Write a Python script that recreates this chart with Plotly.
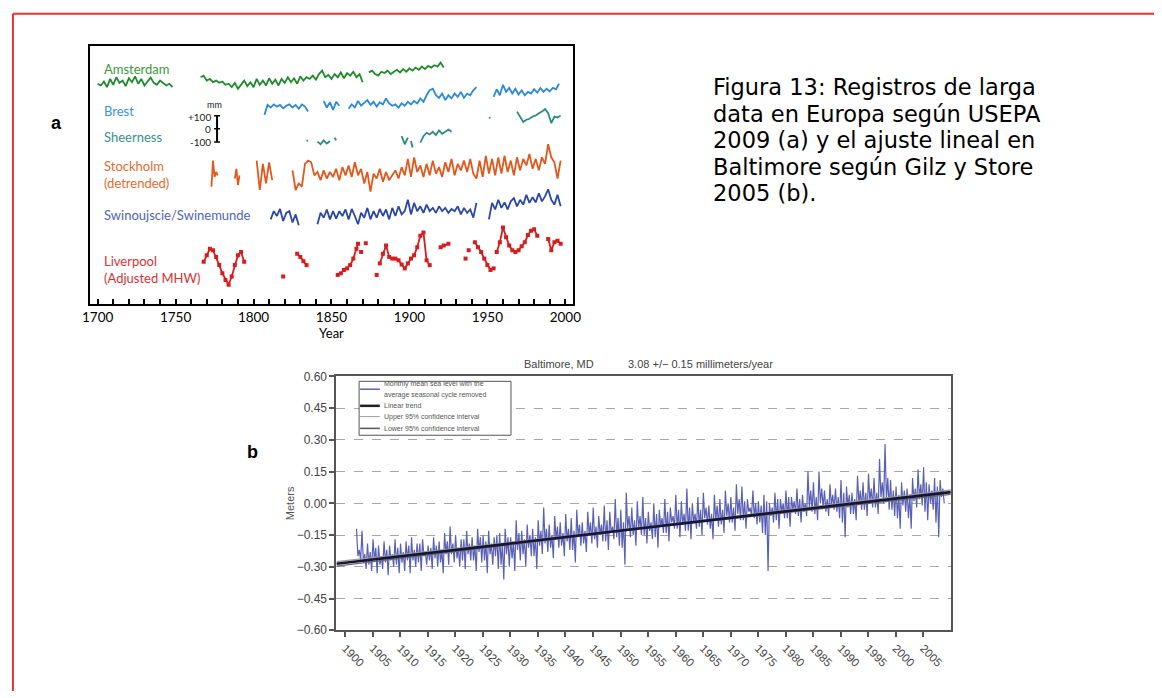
import plotly.graph_objects as go

W, H = 1162, 698


def px(x):
    return x / W


def py(y):
    return 1 - y / H


# ---------------- Panel a: long European records (mm anomalies) ----------------
ams_years = [*range(1700, 1749, 2), None, *range(1766, 1871, 2), None, *range(1874, 1923, 2)]
ams_mm = [-12, -25, 5, -38, 25, -20, 38, -5, 12, -30, 30, 0, 45, -12, 25, -25, 5, 35, -5, -20, 12, -5, -25, -12, -38,
          None,
          38, 50, 12, 25, 0, 12, -5, 5, -20, -12, -38, -5, -50, -20, 12, -30, 0, -38, 25, -20, 12, -25, 30, -12,
          20, -25, 25, -5, 38, 0, 30, -12, 45, 12, 38, 25, 50, 20, 62, 88, 38, 55, 25, 62, 38, 75, 30, 70, 50, 80,
          38, 62, 0,
          None,
          75, 88, 62, 50, 80, 70, 88, 62, 80, 95, 75, 100, 80, 105, 88, 112, 95, 120, 100, 125, 112, 130, 120, 150, 112]

brest_years = [*range(1807, 1836, 2), None, *range(1845, 1856, 2), None, *range(1861, 1944, 2), None,
               *range(1954, 1997, 2)]
brest_mm = [-38, 38, 18, 42, 25, 38, 12, 32, 42, 18, 38, 8, 42, 25, -12,
            None,
            68, 18, 58, 0, 62, 32,
            None,
            8, 42, 18, 68, 32, 50, 75, 38, 62, 25, 58, 42, 88, 50, 32, 42, 18, 50, 32, 62, 42, 68, 50, 88, 62, 112,
            150, 162, 112, 92, 125, 75, 112, 88, 125, 100, 138, 92, 125, 112, 150, 175,
            None,
            100, 158, 112, 192, 138, 168, 125, 162, 118, 150, 112, 138, 125, 158, 132, 168, 138, 162, 142, 168, 158, 200]

sheer_years = [1834, 1835, None, 1841, 1843, 1845, 1847, 1849, None, 1852, 1853, None, 1895, 1897, 1899, None,
               1901, 1902, None, *range(1907, 1928, 2), None, 1951, 1952, None, *range(1969, 1998, 2)]
sheer_mm = [-25, -20, None, -30, -50, -20, -45, -25, None, 0, -20, None, 12, -50, 0, None, -25, -75, None,
            -38, 12, 38, 25, 45, 20, 55, 30, 45, 62, 45, None, 155, 150, None,
            200, 162, 120, 138, 145, 162, 170, 188, 200, 220, 188, 112, 162, 155, 170]

stock_years = [*range(1773, 1778), None, *range(1788, 1792), None, *range(1802, 1813, 2), None,
               *range(1825, 1998, 2)]
stock_mm = [-75, 125, 0, 38, 12, None, -12, 62, -62, 12, None, 125, -100, 100, -50, 112, -25, None,
            50, -100, -50, -75, 100, 125, 112, 12, 38, -25,
            50, -12, 38, 0, 62, -25, 75, 12, 88, 0,
            112, 12, 62, -50, 38, -112, 25, -12, 62, -38,
            38, -25, 12, 50, -12, 75, 12, 138, 0, 150,
            38, 88, 0, 100, 12, 125, 25, 75, 0, 112,
            38, 138, 12, 100, 50, 125, 38, 138, 25, -12,
            125, 0, 162, 25, 138, 12, 150, 25, 162, 38,
            125, 12, 150, 50, 138, 88, 175, 62, 138, 50,
            150, 100, 250, 150, 112, -12, 125]

swin_years = [*range(1811, 1830, 2), None, *range(1841, 1944, 2), None, *range(1951, 1998, 2)]
swin_mm = [-38, 25, -12, 42, -50, 12, 25, -62, 0, -82,
           None,
           -75, 12, -25, 38, -38, 25, -32, 25, -12, 38,
           -38, 42, -12, -75, 12, -25, 50, -38, 25, -25,
           42, -12, 38, -38, 50, -12, 62, 0, 25, 112,
           0, 88, 25, 62, 12, 75, 25, 50, 12, 62,
           25, 50, 12, 42, 25, 62, 0, 50, 12, 38, -25, 88,
           None,
           -38, 88, 38, 112, 50, 92, 38, 100, 125, 62, 112, 75, 150, 88, 132, 92, 162, 100, 138, 192, 112, 75, 150, 62]

liv_years = [*range(1768, 1795, 2), None, 1819, None, *range(1828, 1835, 2), None, *range(1854, 1867, 2), 1867,
             None, 1869, None, 1872, None, 1879, None, *range(1881, 1914, 2), None, 1920, 1922, 1925, None,
             1936, None, 1938, None, *range(1942, 1956, 2), None, *range(1956, 1983, 2), None,
             *range(1989, 1998, 2)]
liv_mm = [0, 50, 100, 88, 38, -25, -88, -138, -175, -112, -25, 50, 75, 0, None, -112, None, 62, 38, 5, -25, None,
          -100, -88, -62, -50, -25, 25, 100, 138, None, 75, None, 142, None, -100, None,
          -12, 62, 125, 38, 25, 25, 12, -20, -50, -12, 25, 50, 112, 200, 225, 12, -25, None,
          112, 125, 138, None, 25, None, 88, None,
          150, 112, 75, 25, -25, -62, -50, None,
          75, 150, 262, 188, 125, 88, 75, 88, 120, 150, 205, 238, 250, 200, None,
          175, 88, 150, 162, 138]

station_names = ["Amsterdam", "Brest", "Sheerness", "Stockholm", "Swinoujscie/Swinemunde", "Liverpool"]
station_years = [ams_years, brest_years, sheer_years, stock_years, swin_years, liv_years]
station_mm = [ams_mm, brest_mm, sheer_mm, stock_mm, swin_mm, liv_mm]
station_offsets = [1697, 1485, 1272, 972, 685, 322]
station_colors = ["#1f8a2c", "#2b8ad6", "#2a8a84", "#e2571c", "#2a47a6", "#d61c1c"]
label_colors = ["#3a9a3a", "#3c92dc", "#3a908a", "#e36a2c", "#5064b4", "#d83232"]
station_labels = ["Amsterdam", "Brest", "Sheerness", "Stockholm<br>(detrended)", "Swinoujscie/Swinemunde",
                  "Liverpool<br>(Adjusted MHW)"]

axis_a_ticks = list(range(1700, 2001, 10))
axis_a_labels = [str(t) if t % 50 == 0 else "" for t in axis_a_ticks]

# ---------------- Panel b: Baltimore monthly sea level (read per year) ----------------
bal_years = list(range(1902, 2009))
bal_hi = [-0.12, -0.13, -0.19, -0.17, -0.20, -0.18, -0.20, -0.17, -0.19, -0.18,
          -0.16, -0.19, -0.17, -0.20, -0.16, -0.18, -0.14, -0.11, -0.15, -0.17,
          -0.13, -0.16, -0.12, -0.15, -0.13, -0.16, -0.14, -0.12, -0.16, -0.08,
          -0.13, -0.10, -0.12, -0.08, -0.02, -0.10, -0.06, -0.09, -0.05, -0.07,
          -0.03, -0.09, -0.04, -0.02, -0.06, -0.01, -0.04, 0.02, -0.03, 0.05,
          -0.02, 0.01, 0.03, -0.04, 0.00, -0.03, 0.02, -0.02, 0.04, 0.01,
          0.07, 0.00, 0.03, 0.05, -0.01, 0.04, 0.02, 0.06, 0.03, 0.09,
          0.08, 0.02, 0.06, 0.01, 0.04, 0.00, 0.05, 0.02, 0.06, 0.03,
          0.07, 0.04, 0.15, 0.10, 0.15, 0.06, 0.09, 0.07, 0.11, 0.08,
          0.05, 0.13, 0.10, 0.14, 0.12, 0.21, 0.28, 0.11, 0.08, 0.10,
          0.07, 0.12, 0.16, 0.17, 0.09, 0.12, 0.11]
bal_mid_lo = [-0.25, -0.28, -0.29, -0.27, -0.29, -0.28, -0.27, -0.29, -0.28, -0.27,
              -0.27, -0.28, -0.25, -0.27, -0.26, -0.28, -0.24, -0.24, -0.26, -0.27,
              -0.24, -0.27, -0.23, -0.27, -0.24, -0.25, -0.29, -0.24, -0.26, -0.22,
              -0.24, -0.21, -0.25, -0.20, -0.19, -0.21, -0.17, -0.20, -0.18, -0.22,
              -0.16, -0.19, -0.15, -0.17, -0.15, -0.18, -0.14, -0.16, -0.21, -0.12,
              -0.15, -0.12, -0.15, -0.13, -0.16, -0.11, -0.14, -0.09, -0.12, -0.10,
              -0.13, -0.09, -0.11, -0.07, -0.12, -0.08, -0.10, -0.06, -0.09, -0.05,
              -0.08, -0.04, -0.07, -0.09, -0.15, -0.06, -0.08, -0.04, -0.07, -0.03,
              -0.06, -0.04, -0.02, -0.05, 0.00, -0.04, -0.01, -0.04, -0.09, -0.02,
              -0.05, 0.00, -0.03, 0.01, -0.02, 0.03, 0.02, -0.03, -0.07, -0.01,
              -0.07, 0.01, 0.02, -0.04, 0.00, -0.09, 0.03]
bal_mid_hi = [-0.22, -0.24, -0.23, -0.21, -0.25, -0.22, -0.24, -0.21, -0.23, -0.20,
              -0.22, -0.19, -0.23, -0.21, -0.20, -0.22, -0.18, -0.19, -0.21, -0.17,
              -0.19, -0.20, -0.16, -0.18, -0.19, -0.15, -0.19, -0.16, -0.18, -0.14,
              -0.17, -0.15, -0.16, -0.13, -0.12, -0.15, -0.11, -0.14, -0.12, -0.13,
              -0.10, -0.13, -0.09, -0.11, -0.10, -0.08, -0.11, -0.07, -0.09, -0.06,
              -0.08, -0.06, -0.07, -0.09, -0.05, -0.07, -0.04, -0.06, -0.03, -0.05,
              -0.02, -0.05, -0.03, -0.02, -0.05, -0.01, -0.03, 0.00, -0.02, 0.02,
              0.01, -0.02, 0.00, -0.01, 0.01, -0.02, 0.02, 0.00, 0.03, 0.01,
              0.02, 0.00, 0.06, 0.03, 0.07, 0.02, 0.04, 0.03, 0.05, 0.04,
              0.02, 0.06, 0.05, 0.07, 0.05, 0.10, 0.12, 0.06, 0.04, 0.06,
              0.04, 0.07, 0.09, 0.10, 0.06, 0.08, 0.07]
bal_lo = [-0.27, -0.31, -0.32, -0.33, -0.31, -0.34, -0.30, -0.33, -0.32, -0.33,
          -0.30, -0.32, -0.29, -0.31, -0.30, -0.33, -0.29, -0.28, -0.30, -0.31,
          -0.27, -0.32, -0.28, -0.33, -0.29, -0.31, -0.36, -0.30, -0.32, -0.27,
          -0.30, -0.25, -0.31, -0.24, -0.23, -0.26, -0.21, -0.25, -0.22, -0.28,
          -0.20, -0.23, -0.19, -0.21, -0.18, -0.22, -0.17, -0.20, -0.29, -0.16,
          -0.20, -0.15, -0.19, -0.17, -0.21, -0.14, -0.18, -0.12, -0.16, -0.13,
          -0.17, -0.12, -0.15, -0.10, -0.17, -0.11, -0.14, -0.09, -0.13, -0.08,
          -0.12, -0.06, -0.10, -0.14, -0.32, -0.09, -0.12, -0.07, -0.11, -0.05,
          -0.09, -0.06, -0.04, -0.08, -0.02, -0.06, -0.03, -0.07, -0.16, -0.05,
          -0.08, -0.03, -0.06, -0.02, -0.05, 0.00, -0.03, -0.06, -0.12, -0.04,
          -0.12, -0.02, -0.01, -0.08, -0.03, -0.16, 0.00]

trend_years = [1898.4, 1955, 2010]
trend_m = [-0.286, -0.1135, 0.053]
upper_ci_m = [-0.276, -0.111, 0.064]
lower_ci_m = [-0.297, -0.116, 0.042]

bal_yticks = [-0.60, -0.45, -0.30, -0.15, 0.00, 0.15, 0.30, 0.45, 0.60]
bal_xticks = list(range(1900, 2006, 5))

legend_b_labels = ["Monthly mean sea level with the", "average seasonal cycle removed", "Linear trend",
                   "Upper 95% confidence interval", "Lower 95% confidence interval"]

caption_lines = ["Figura 13: Registros de larga", "data en Europa según USEPA", "2009 (a) y el ajuste lineal en",
                 "Baltimore según Gilz y Store", "2005 (b)."]

# ---------------- Build figure ----------------
fig = go.Figure()

for name, yrs, vals, off, col in zip(station_names, station_years, station_mm, station_offsets, station_colors):
    yv = [None if v is None else off + v for v in vals]
    is_liv = name == "Liverpool"
    fig.add_trace(go.Scatter(
        x=yrs, y=yv, mode="lines+markers" if is_liv else "lines",
        line=dict(color=col, width=1.8),
        marker=dict(color=col, size=4, symbol="square"),
        xaxis="x", yaxis="y", showlegend=False, connectgaps=False, name=name))

# Baltimore series: four readings per year
bx, by = [], []
for yr, a, b, c, d in zip(bal_years, bal_hi, bal_mid_lo, bal_mid_hi, bal_lo):
    bx += [yr + 0.05, yr + 0.3, yr + 0.55, yr + 0.8]
    by += [a, b, c, d]
fig.add_trace(go.Scatter(x=bx, y=by, mode="lines", line=dict(color="#5a60b4", width=1.2),
                         xaxis="x2", yaxis="y2", showlegend=False))
fig.add_trace(go.Scatter(x=trend_years, y=upper_ci_m, mode="lines", line=dict(color="#9a9a9a", width=1.2),
                         xaxis="x2", yaxis="y2", showlegend=False))
fig.add_trace(go.Scatter(x=trend_years, y=lower_ci_m, mode="lines", line=dict(color="#6a6a6a", width=1.2),
                         xaxis="x2", yaxis="y2", showlegend=False))
fig.add_trace(go.Scatter(x=trend_years, y=trend_m, mode="lines", line=dict(color="#151535", width=2.6),
                         xaxis="x2", yaxis="y2", showlegend=False))

shapes = []
annotations = []

# red page frame (top and left)
shapes.append(dict(type="line", xref="paper", yref="paper", x0=px(5), x1=1.0, y0=py(7), y1=py(7),
                   line=dict(color="#e83232", width=2)))
shapes.append(dict(type="line", xref="paper", yref="paper", x0=px(5), x1=px(5), y0=py(7), y1=0,
                   line=dict(color="#e83232", width=2)))

# station labels panel a
for txt, yy, col in zip(station_labels, [63, 106, 133, 171, 212, 268], label_colors):
    annotations.append(dict(text=txt, xref="paper", yref="paper", x=px(95), y=py(yy), xanchor="left",
                            yanchor="middle", align="left", showarrow=False,
                            font=dict(family="Lato", size=13, color=col)))

# scale bar panel a
sb_year = 1776.6
sb_center = 1340
shapes.append(dict(type="line", xref="x", yref="y", x0=sb_year, x1=sb_year, y0=sb_center - 100,
                   y1=sb_center + 100, line=dict(color="black", width=2)))
for dy in (-100, 0, 100):
    shapes.append(dict(type="line", xref="x", yref="y", x0=sb_year - 1.9, x1=sb_year + 1.9,
                       y0=sb_center + dy, y1=sb_center + dy, line=dict(color="black", width=1.5)))
for txt, xx, yy, sz in [("mm", 219, 100, 9), ("+100", 208, 112, 10), ("0", 208, 124, 10), ("-100", 208, 138, 10)]:
    annotations.append(dict(text=txt, xref="paper", yref="paper", x=px(xx), y=py(yy), xanchor="right",
                            yanchor="middle", showarrow=False, font=dict(family="Lato", size=sz, color="#222")))

# panel letters
annotations.append(dict(text="<b>a</b>", xref="paper", yref="paper", x=px(42), y=py(106), showarrow=False,
                        font=dict(family="Liberation Sans", size=18, color="black")))
annotations.append(dict(text="<b>b</b>", xref="paper", yref="paper", x=px(240), y=py(466), showarrow=False,
                        font=dict(family="Liberation Sans", size=18, color="black")))

# caption
for i, line in enumerate(caption_lines):
    annotations.append(dict(text=line, xref="paper", yref="paper", x=px(713), y=py(82 + 27 * i),
                            xanchor="left", yanchor="middle", showarrow=False,
                            font=dict(family="DejaVu Sans", size=22.5, color="black")))

# panel b title
annotations.append(dict(text="Baltimore, MD", xref="paper", yref="paper", x=px(559), y=py(364),
                        showarrow=False, font=dict(family="Liberation Sans", size=11, color="#444")))
annotations.append(dict(text="3.08 +/− 0.15 millimeters/year", xref="paper", yref="paper", x=px(702),
                        y=py(364), showarrow=False, font=dict(family="Liberation Sans", size=11, color="#444")))

# panel b legend box
shapes.append(dict(type="rect", xref="paper", yref="paper", x0=px(356), x1=px(510), y0=py(437), y1=py(382),
                   fillcolor="white", line=dict(color="#555", width=1), layer="above"))
samples = [(390, "#5a60b4", 1.5), (407, "#222", 2.5), (418, "#9a9a9a", 1), (430, "#555", 1.5)]
for yy, col, wd in samples:
    shapes.append(dict(type="line", xref="paper", yref="paper", x0=px(357), x1=px(377), y0=py(yy), y1=py(yy),
                       line=dict(color=col, width=wd), layer="above"))
for txt, yy in zip(legend_b_labels, [385, 396, 407, 418, 430]):
    annotations.append(dict(text=txt, xref="paper", yref="paper", x=px(379), y=py(yy), xanchor="left",
                            yanchor="middle", showarrow=False,
                            font=dict(family="Liberation Sans", size=7, color="#555")))

fig.update_layout(
    width=W, height=H, margin=dict(l=0, r=0, t=0, b=0),
    paper_bgcolor="white", plot_bgcolor="white", showlegend=False,
    shapes=shapes, annotations=annotations,
    xaxis=dict(domain=[px(83), px(573)], range=[1695, 2005], tickmode="array", tickvals=axis_a_ticks,
               ticktext=axis_a_labels, ticks="inside", ticklen=5, tickwidth=1.5, tickcolor="black",
               showline=True, linewidth=2, linecolor="black", mirror=True, showgrid=False, zeroline=False,
               tickfont=dict(family="Lato", size=13.5, color="black"),
               title=dict(text="Year", font=dict(family="Lato", size=13, color="black"), standoff=2),
               anchor="y"),
    yaxis=dict(domain=[py(303), py(40)], range=[0, 1972.5], showticklabels=False, ticks="", showgrid=False,
               zeroline=False, showline=True, linewidth=2, linecolor="black", mirror=True, anchor="x"),
    xaxis2=dict(domain=[px(333), px(956)], range=[1898.4, 2010], tickmode="array", tickvals=bal_xticks,
                tickangle=45, ticks="outside", ticklen=5, tickwidth=1.5, tickcolor="#555",
                showline=True, linewidth=2, linecolor="#555", mirror=True, showgrid=False, zeroline=False,
                tickfont=dict(family="Liberation Sans", size=11.5, color="#444"), anchor="y2"),
    yaxis2=dict(domain=[py(636), py(377)], range=[-0.6, 0.6], tickmode="array", tickvals=bal_yticks,
                tickformat=".2f", ticks="outside", ticklen=5, tickwidth=1.5, tickcolor="#555",
                showline=True, linewidth=2, linecolor="#555", mirror=True, showgrid=True,
                gridcolor="#a8a8a8", griddash="dash", gridwidth=1, zeroline=False,
                tickfont=dict(family="Liberation Sans", size=12, color="#444"),
                title=dict(text="Meters", font=dict(family="Liberation Sans", size=11, color="#555"), standoff=0),
                anchor="x2"),
)

fig.write_html("out.html")
